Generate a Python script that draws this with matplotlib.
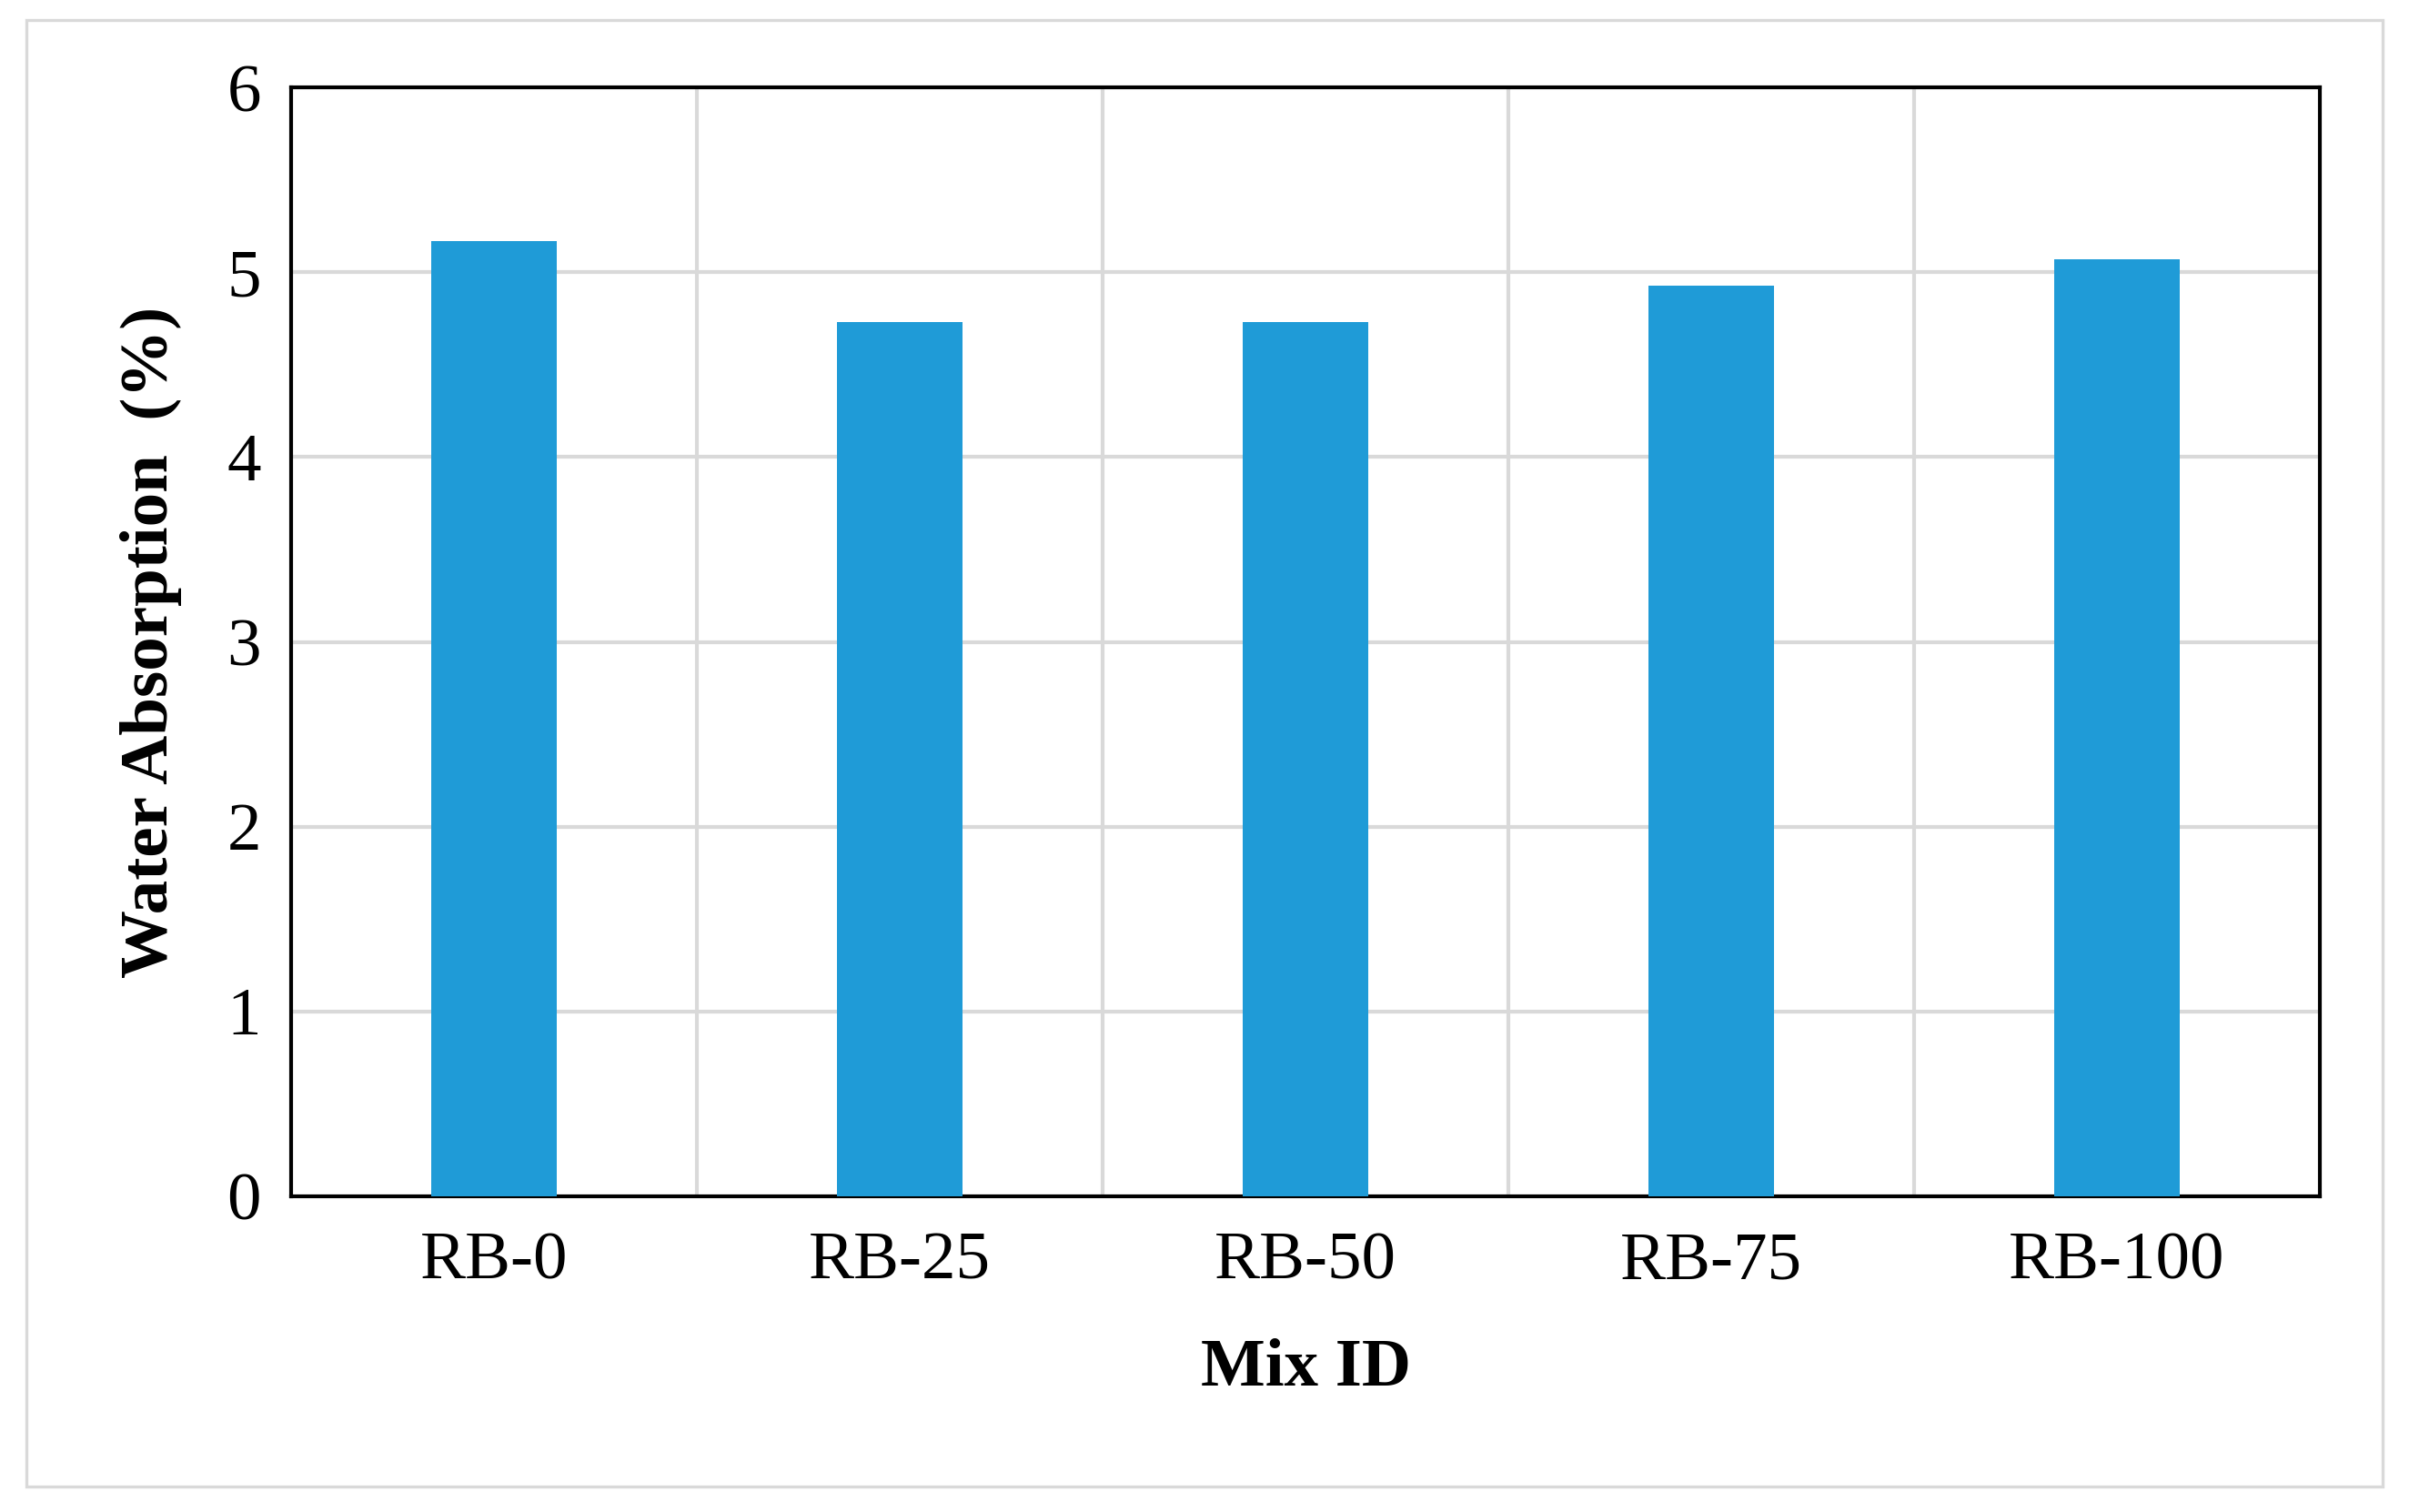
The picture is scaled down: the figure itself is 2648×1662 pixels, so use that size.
import matplotlib
matplotlib.use("Agg")
import matplotlib.pyplot as plt
from matplotlib.patches import Rectangle

categories = ["RB-0", "RB-25", "RB-50", "RB-75", "RB-100"]
values = [5.17, 4.73, 4.73, 4.93, 5.07]
yticks = [0, 1, 2, 3, 4, 5, 6]

plt.rcParams['font.family'] = ['Liberation Serif', 'DejaVu Serif']
fig = plt.figure(figsize=(13.24, 8.31), dpi=200)
fig.patches.append(Rectangle((0.011, 0.017), 0.978, 0.97, transform=fig.transFigure,
                             fill=False, edgecolor='#d9d9d9', linewidth=1.2))
ax = fig.add_axes([0.121, 0.209, 0.842, 0.733])
x = range(len(categories))
ax.bar(x, values, width=0.31, color='#1f9bd7', zorder=3)
ax.set_xlim(-0.5, len(categories) - 0.5)
ax.set_ylim(0, 6)
ax.set_yticks(yticks)
ax.set_xticks(list(x))
ax.set_xticklabels(categories)
ax.set_xticks([i + 0.5 for i in range(len(categories) - 1)], minor=True)
ax.grid(True, which='minor', axis='x', color='#d9d9d9', linewidth=1.5, zorder=0)
ax.grid(True, which='major', axis='y', color='#d9d9d9', linewidth=1.5, zorder=0)
ax.tick_params(which='both', length=0, labelsize=27)
ax.tick_params(axis='x', pad=14)
ax.tick_params(axis='y', pad=12)
for s in ax.spines.values():
    s.set_linewidth(1.5)
    s.set_color('black')
ax.set_xlabel("Mix ID", fontsize=27, fontweight='bold', labelpad=18)
ax.set_ylabel("Water Absorption  (%)", fontsize=27, fontweight='bold', labelpad=18)
fig.savefig("out.png", dpi=200)
